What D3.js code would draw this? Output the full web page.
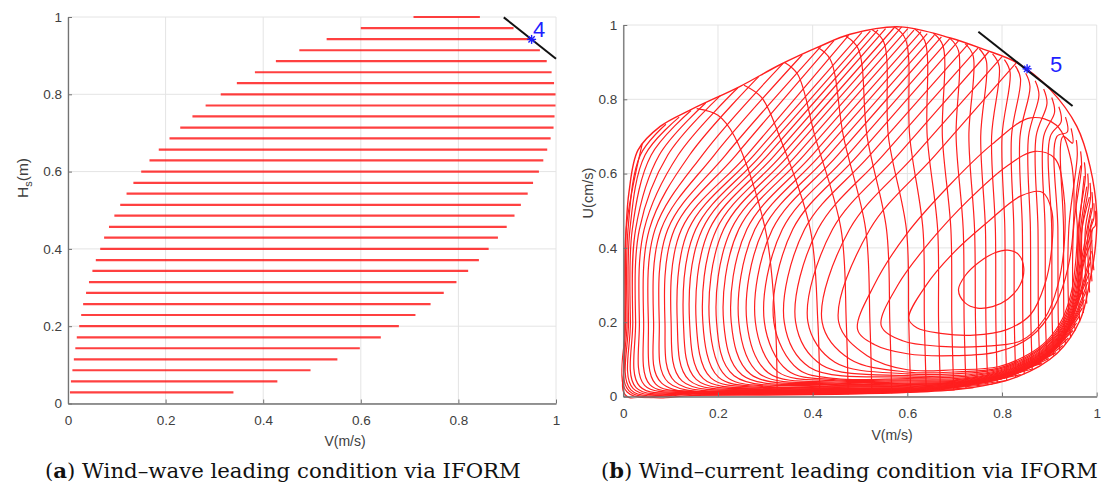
<!DOCTYPE html>
<html><head><meta charset="utf-8">
<script src="https://cdn.jsdelivr.net/npm/d3@7"></script>
<style>body{margin:0;background:#fff}svg{display:block}</style>
</head><body>
<svg id="chart" width="1107" height="486"></svg>
<script>
// ================= DATA =================
const tickValues = [0, 0.2, 0.4, 0.6, 0.8, 1];
const tickLabels = ["0", "0.2", "0.4", "0.6", "0.8", "1"];

// ---- Panel (a): horizontal segments (Hs level, V start, V end) ----
const hsLevels = [0.029,0.057,0.086,0.114,0.143,0.171,0.2,0.229,0.257,0.286,0.314,0.343,0.371,0.4,0.429,0.457,0.486,0.514,0.543,0.571,0.6,0.629,0.657,0.686,0.714,0.743,0.771,0.8,0.829,0.857,0.886,0.914,0.943,0.971,1.0];
const vStart = [0.004,0.006,0.009,0.012,0.015,0.018,0.023,0.027,0.031,0.037,0.043,0.050,0.057,0.066,0.074,0.084,0.095,0.107,0.120,0.134,0.150,0.167,0.186,0.208,0.230,0.255,0.282,0.313,0.346,0.383,0.426,0.474,0.530,0.600,0.708];
const vEnd = [0.339,0.429,0.497,0.552,0.598,0.641,0.678,0.712,0.743,0.770,0.796,0.820,0.842,0.862,0.881,0.899,0.915,0.928,0.942,0.953,0.965,0.974,0.982,0.989,0.995,0.997,0.999,0.999,0.996,0.991,0.981,0.967,0.953,0.913,0.844];
const pointA = [0.950, 0.942];
const tangentA = [[0.893, 0.999], [1.0, 0.892]];

// ---- Panel (b): outer silhouette ----
const envTop = [[0.031,0.663],[0.078,0.727],[0.141,0.771],[0.247,0.835],[0.331,0.893],[0.416,0.943],[0.479,0.975],[0.585,0.995],[0.691,0.965],[0.76,0.935],[0.832,0.898],[0.902,0.826],[0.958,0.727],[0.986,0.619],[1.0,0.494]];
const envRight = [[0.997,0.4],[0.986,0.314],[0.965,0.206],[0.916,0.116]];
const envBottom = [[0.832,0.053],[0.726,0.022],[0.6,0.011],[0.45,0.006],[0.3,0.004],[0.15,0.003]];
const envLeft = [[0.006,0.002],[0.003,0.1],[0.004,0.3],[0.006,0.45],[0.012,0.55]];
const cornerPath = [[0.8,0.04],[0.87,0.075],[0.916,0.116],[0.955,0.18],[0.98,0.26],[0.994,0.35],[1.0,0.45],[0.995,0.54],[0.985,0.62]];

// ---- Panel (b): family A, open curves (top contact -> diagonal -> U turn -> bottom run -> right end), outer -> inner ----
const aTop = [[0.04,0.68],[0.09,0.733],[0.118,0.752],[0.143,0.77],[0.174,0.79],[0.205,0.81],[0.242,0.831],[0.286,0.861],[0.337,0.896],[0.378,0.92],[0.418,0.943],[0.445,0.958],[0.476,0.972],[0.504,0.98],[0.522,0.984],[0.538,0.987],[0.554,0.99],[0.573,0.994],[0.588,0.995],[0.601,0.99],[0.614,0.986],[0.629,0.982],[0.642,0.977],[0.657,0.973],[0.672,0.968],[0.69,0.964],[0.708,0.957],[0.728,0.948],[0.75,0.939],[0.772,0.928],[0.8,0.915],[0.83,0.898]];
const aLeft65 = [0.028,0.036,0.046,0.059,0.076,0.094,0.116,0.140,0.167,0.192,0.216,0.238,0.261,0.276,0.291,0.305,0.320,0.335,0.350,0.366,0.382,0.399,0.416,0.434,0.453,0.474,0.496,0.521,0.549,0.580,0.616,0.659];
const aLeft45 = [0.006,0.010,0.014,0.019,0.026,0.034,0.044,0.055,0.067,0.080,0.094,0.108,0.123,0.138,0.153,0.167,0.182,0.197,0.212,0.228,0.244,0.261,0.278,0.296,0.315,0.336,0.358,0.383,0.411,0.442,0.478,0.521];
const aLeft20 = [0.005,0.008,0.011,0.015,0.020,0.026,0.034,0.043,0.053,0.064,0.076,0.088,0.101,0.114,0.127,0.140,0.154,0.168,0.182,0.197,0.212,0.228,0.244,0.261,0.279,0.298,0.318,0.340,0.364,0.390,0.420,0.455];
const aTurn = [[0.008,0.012],[0.012,0.015],[0.016,0.018],[0.021,0.021],[0.027,0.024],[0.035,0.027],[0.045,0.03],[0.056,0.032],[0.068,0.034],[0.081,0.036],[0.095,0.038],[0.109,0.04],[0.124,0.042],[0.139,0.044],[0.154,0.046],[0.169,0.048],[0.185,0.05],[0.201,0.052],[0.217,0.054],[0.234,0.056],[0.251,0.058],[0.269,0.06],[0.287,0.062],[0.306,0.064],[0.326,0.067],[0.347,0.07],[0.369,0.074],[0.393,0.079],[0.419,0.085],[0.447,0.092],[0.479,0.1],[0.515,0.11]];
const aRun = [0.006,0.007,0.008,0.009,0.010,0.011,0.012,0.013,0.014,0.015,0.016,0.017,0.018,0.019,0.020,0.022,0.024,0.026,0.028,0.030,0.032,0.034,0.036,0.039,0.042,0.045,0.048,0.052,0.056,0.061,0.066,0.072];
const aEnd = [[0.55,0.009],[0.6,0.011],[0.65,0.014],[0.7,0.018],[0.74,0.024],[0.78,0.033],[0.81,0.043],[0.84,0.057],[0.865,0.072],[0.885,0.087],[0.9,0.1],[0.916,0.116],[0.93,0.135],[0.942,0.155],[0.952,0.175],[0.96,0.195],[0.967,0.215],[0.973,0.235],[0.978,0.258],[0.982,0.28],[0.986,0.305],[0.99,0.33],[0.993,0.36],[0.996,0.39],[0.998,0.42],[0.999,0.45],[1.0,0.48],[0.998,0.51],[0.995,0.54],[0.99,0.57],[0.985,0.6],[0.978,0.63]];
// ---- family A, closed inner ovals ----
const ovals = [
  [[0.495,0.18],[0.53,0.3],[0.6,0.44],[0.69,0.57],[0.78,0.68],[0.86,0.75],[0.915,0.73],[0.945,0.64],[0.952,0.5],[0.94,0.35],[0.91,0.24],[0.86,0.16],[0.79,0.12],[0.7,0.11],[0.6,0.115],[0.53,0.14]],
  [[0.545,0.19],[0.58,0.3],[0.65,0.42],[0.73,0.53],[0.81,0.62],[0.87,0.66],[0.912,0.64],[0.93,0.55],[0.932,0.42],[0.918,0.3],[0.89,0.21],[0.84,0.15],[0.76,0.135],[0.67,0.135],[0.59,0.15]],
  [[0.603,0.21],[0.64,0.3],[0.7,0.39],[0.77,0.47],[0.84,0.54],[0.885,0.55],[0.905,0.5],[0.905,0.4],[0.89,0.3],[0.86,0.22],[0.81,0.18],[0.74,0.165],[0.67,0.17],[0.62,0.185]],
  [[0.708,0.287],[0.722,0.325],[0.75,0.36],[0.785,0.387],[0.812,0.394],[0.835,0.382],[0.846,0.345],[0.838,0.3],[0.812,0.262],[0.78,0.242],[0.748,0.238],[0.722,0.252]]
];

// ---- Panel (b): family B arcs (top of silhouette -> bottom) ----
const arcTop = [[0.155,0.775],[0.255,0.838],[0.34,0.9],[0.41,0.94],[0.47,0.97],[0.525,0.988],[0.572,0.995],[0.615,0.99],[0.655,0.978],[0.69,0.964],[0.722,0.95],[0.752,0.936],[0.78,0.922],[0.805,0.907],[0.828,0.89],[0.85,0.87],[0.87,0.85],[0.888,0.828],[0.905,0.805],[0.92,0.78],[0.934,0.752],[0.946,0.722],[0.957,0.69],[0.966,0.66],[0.974,0.63],[0.981,0.6],[0.986,0.575],[0.99,0.55],[0.994,0.52],[0.997,0.5]];
const arcShoulder = [[0.2,0.757],[0.292,0.805],[0.368,0.868],[0.437,0.908],[0.496,0.937],[0.55,0.955],[0.596,0.962],[0.637,0.957],[0.675,0.945],[0.708,0.931],[0.739,0.917],[0.767,0.903],[0.794,0.889],[0.817,0.873],[0.839,0.856],[0.859,0.835],[0.878,0.812],[0.895,0.789],[0.911,0.765],[0.925,0.74],[0.938,0.712],[0.949,0.682],[0.959,0.65],[0.968,0.62],[0.976,0.59],[0.982,0.56],[0.987,0.535],[0.991,0.51],[0.994,0.48],[0.997,0.46]];
const arcX70 = [0.235,0.33,0.405,0.465,0.515,0.56,0.605,0.642,0.674,0.703,0.73,0.755,0.778,0.8,0.82,0.838,0.856,0.872,0.888,0.902,0.916,0.929,null,null,null,null,null,null,null,null];
const arcX45 = [0.30,0.395,0.46,0.512,0.556,0.598,0.633,0.664,0.692,0.718,0.742,0.765,0.786,0.806,0.825,0.843,0.86,0.876,0.891,0.905,0.918,0.93,0.941,0.951,0.961,0.969,0.976,0.982,0.987,0.991];
const arcX20 = [0.321,0.411,0.471,0.521,0.563,0.603,0.636,0.666,0.694,0.72,0.744,0.766,0.787,0.807,0.826,0.844,0.861,0.877,0.892,0.906,0.919,0.931,0.942,0.952,null,null,null,null,null,null];
const arcBottom = [[0.325,0.006],[0.415,0.006],[0.475,0.006],[0.525,0.007],[0.567,0.009],[0.607,0.011],[0.64,0.013],[0.67,0.015],[0.698,0.018],[0.724,0.021],[0.748,0.026],[0.77,0.031],[0.79,0.037],[0.81,0.044],[0.829,0.051],[0.847,0.06],[0.864,0.072],[0.88,0.085],[0.895,0.098],[0.909,0.11],[0.922,0.125],[0.934,0.14],[0.945,0.158],[0.955,0.178],[0.964,0.2],[0.972,0.225],[0.979,0.25],[0.985,0.28],[0.99,0.31],[0.994,0.34]];
const pointB = [0.853, 0.882];
const tangentB = [[0.750, 0.982], [0.949, 0.782]];

// ================= DRAWING =================
const svg = d3.select("#chart");
const RED = "#ff1f1f", BLUE = "#1f1fff", GRID = "#e4e4e4", AXIS = "#737373", TXT = "#404040";
const FONT = "'Liberation Sans', Arial, sans-serif";

const xa = d3.scaleLinear([0, 1], [68, 556]);
const ya = d3.scaleLinear([0, 1], [403.5, 17]);
const xb = d3.scaleLinear([0, 1], [623.3, 1096.7]);
const yb = d3.scaleLinear([0, 1], [396.5, 25]);

function frame(x, y) {
  const g = svg.append("g");
  g.selectAll(".gx").data(tickValues).join("line")
    .attr("x1", d => x(d)).attr("x2", d => x(d)).attr("y1", y(0)).attr("y2", y(1))
    .attr("stroke", GRID).attr("stroke-width", 1);
  g.selectAll(".gy").data(tickValues).join("line")
    .attr("y1", d => y(d)).attr("y2", d => y(d)).attr("x1", x(0)).attr("x2", x(1))
    .attr("stroke", GRID).attr("stroke-width", 1);
}
function axes(x, y) {
  const fmt = (d, i) => tickLabels[i];
  const gx = svg.append("g").attr("transform", `translate(0,${y(0)})`)
    .call(d3.axisBottom(x).tickValues(tickValues).tickFormat(fmt).tickSizeInner(-4).tickSizeOuter(0).tickPadding(12));
  const gy = svg.append("g").attr("transform", `translate(${x(0)},0)`)
    .call(d3.axisLeft(y).tickValues(tickValues).tickFormat(fmt).tickSizeInner(-4).tickSizeOuter(0).tickPadding(6));
  [gx, gy].forEach(g => {
    g.select(".domain").attr("stroke", AXIS).attr("stroke-width", 1.3);
    g.selectAll(".tick line").attr("stroke", AXIS);
    g.selectAll("text").attr("font-family", FONT).attr("font-size", 13.5).attr("fill", TXT);
  });
}

// ---------- Panel (a) ----------
frame(xa, ya);
svg.append("g").selectAll("line").data(hsLevels).join("line")
  .attr("x1", (d, i) => xa(vStart[i])).attr("x2", (d, i) => xa(vEnd[i]))
  .attr("y1", d => ya(d)).attr("y2", d => ya(d))
  .attr("stroke", RED).attr("stroke-width", 2.2).attr("opacity", 0.85);
axes(xa, ya);
svg.append("line").attr("x1", xa(tangentA[0][0])).attr("y1", ya(tangentA[0][1]))
  .attr("x2", xa(tangentA[1][0])).attr("y2", ya(tangentA[1][1])).attr("stroke", "#111").attr("stroke-width", 2);

// ---------- Panel (b) ----------
frame(xb, yb);
svg.append("defs").append("clipPath").attr("id", "clipb")
  .append("rect").attr("x", xb(0) - 2).attr("y", yb(1) - 2).attr("width", xb(1) - xb(0) + 4).attr("height", yb(0) - yb(1) + 4);
const gb = svg.append("g").attr("clip-path", "url(#clipb)");
const closedLine = d3.line().x(d => xb(d[0])).y(d => yb(d[1])).curve(d3.curveCatmullRomClosed.alpha(0.5));
const openLine = d3.line().x(d => xb(d[0])).y(d => yb(d[1])).curve(d3.curveCatmullRom.alpha(0.5));

function insetPt(s, d) {
  const cx = 0.72, cy = 0.45;
  const dx = cx - s[0], dy = cy - s[1], L = Math.hypot(dx, dy);
  return [s[0] + dx / L * d, s[1] + dy / L * d];
}
const botSorted = [[0.006,0.002], ...envBottom.slice().reverse(), [0.916,0.116]];
function envBotY(x) {
  for (let i = 0; i < botSorted.length - 1; i++) {
    const a = botSorted[i], b = botSorted[i + 1];
    if (x >= a[0] && x <= b[0]) return a[1] + (b[1] - a[1]) * (x - a[0]) / (b[0] - a[0]);
  }
  return 0.003;
}

// outer silhouette
gb.append("path").datum([...envTop, ...envRight, ...envBottom, ...envLeft])
  .attr("d", closedLine).attr("fill", "none").attr("stroke", RED).attr("stroke-width", 1.4);

// family A open curves
const runXs = [0.15, 0.3, 0.45, 0.6, 0.7];
const aCurves = aTop.map((T, k) => {
  const pts = [T];
  if (T[1] > 0.7 && aLeft65[k] < T[0] - 0.02) pts.push([aLeft65[k], 0.65]);
  pts.push([aLeft45[k], 0.45]);
  pts.push([aLeft20[k], 0.2]);
  const t = aTurn[k], R = aEnd[k], h = aRun[k];
  const c = 0.6 * Math.max(0.001, h - 0.004);
  pts.push(t);
  const onRight = R[1] > 0.05;
  runXs.forEach(x => {
    const lim = onRight ? 0.76 : R[0] - 0.06;
    if (x > t[0] + 0.08 && x < lim) pts.push([x, Math.max(h, envBotY(x) + c)]);
  });
  if (onRight) {
    cornerPath.forEach(s => { if (s[1] < R[1] - 0.06) pts.push(insetPt(s, c)); });
    pts.push(insetPt(R, c * 0.35));
  } else {
    pts.push(R);
  }
  return pts;
});
gb.selectAll(".acurve").data(aCurves).join("path").attr("class", "acurve")
  .attr("d", openLine).attr("fill", "none").attr("stroke", RED).attr("stroke-width", 1.2);

// family A closed ovals
gb.selectAll(".oval").data(ovals).join("path").attr("class", "oval")
  .attr("d", closedLine).attr("fill", "none").attr("stroke", RED).attr("stroke-width", 1.2);

// family B arcs
const arcs = arcTop.map((top, j) => {
  const pts = [top, arcShoulder[j]];
  if (arcX70[j] != null) pts.push([arcX70[j], 0.7]);
  pts.push([arcX45[j], 0.45]);
  if (arcX20[j] != null) pts.push([arcX20[j], 0.2]);
  pts.push(arcBottom[j]);
  return pts;
});
gb.selectAll(".arc").data(arcs).join("path").attr("class", "arc")
  .attr("d", openLine).attr("fill", "none").attr("stroke", RED).attr("stroke-width", 1.2);

axes(xb, yb);
svg.append("line").attr("x1", xb(tangentB[0][0])).attr("y1", yb(tangentB[0][1]))
  .attr("x2", xb(tangentB[1][0])).attr("y2", yb(tangentB[1][1])).attr("stroke", "#111").attr("stroke-width", 2);

// ---------- design points ----------
function star(cx, cy) {
  const r = 4.5, g = svg.append("g").attr("stroke", BLUE).attr("stroke-width", 1.4);
  [[0, 1], [1, 0], [0.7, 0.7], [0.7, -0.7]].forEach(([a, b]) =>
    g.append("line").attr("x1", cx - a * r).attr("y1", cy - b * r).attr("x2", cx + a * r).attr("y2", cy + b * r));
}
star(xa(pointA[0]), ya(pointA[1]));
svg.append("text").attr("x", xa(pointA[0]) + 1.5).attr("y", ya(pointA[1]) - 2).text("4")
  .attr("font-family", FONT).attr("font-size", 22).attr("fill", BLUE);
star(xb(pointB[0]), yb(pointB[1]));
svg.append("text").attr("x", xb(pointB[0]) + 23).attr("y", yb(pointB[1]) + 3.5).text("5")
  .attr("font-family", FONT).attr("font-size", 22).attr("fill", BLUE);

// ---------- axis titles ----------
svg.append("text").attr("x", 345).attr("y", 446).attr("text-anchor", "middle").text("V(m/s)")
  .attr("font-family", FONT).attr("font-size", 14).attr("fill", TXT);
svg.append("text").attr("x", 892).attr("y", 440).attr("text-anchor", "middle").text("V(m/s)")
  .attr("font-family", FONT).attr("font-size", 14).attr("fill", TXT);
const ha = svg.append("text").attr("transform", "translate(28,178) rotate(-90)").attr("text-anchor", "middle")
  .attr("font-family", FONT).attr("font-size", 15.5).attr("fill", TXT);
ha.append("tspan").text("H");
ha.append("tspan").attr("dy", 4).attr("font-size", 11).text("s");
ha.append("tspan").attr("dy", -4).text("(m)");
svg.append("text").attr("transform", "translate(593,193) rotate(-90)").attr("text-anchor", "middle")
  .attr("font-family", FONT).attr("font-size", 14.5).attr("fill", TXT).text("U(cm/s)");

// ---------- captions ----------
function caption(x, letter, rest, width) {
  const t = svg.append("text").attr("x", x).attr("y", 478)
    .attr("font-family", "'DejaVu Serif', 'Liberation Serif', serif").attr("font-size", 20).attr("fill", "#111");
  t.append("tspan").text("(");
  t.append("tspan").attr("font-weight", "bold").text(letter);
  t.append("tspan").text(rest);
  const w = t.node().getComputedTextLength();
  t.attr("font-size", 20 * width / w);
}
caption(45, "a", ") Wind\u2013wave leading condition via IFORM", 476);
caption(601, "b", ") Wind\u2013current leading condition via IFORM", 497);
</script>
</body></html>
